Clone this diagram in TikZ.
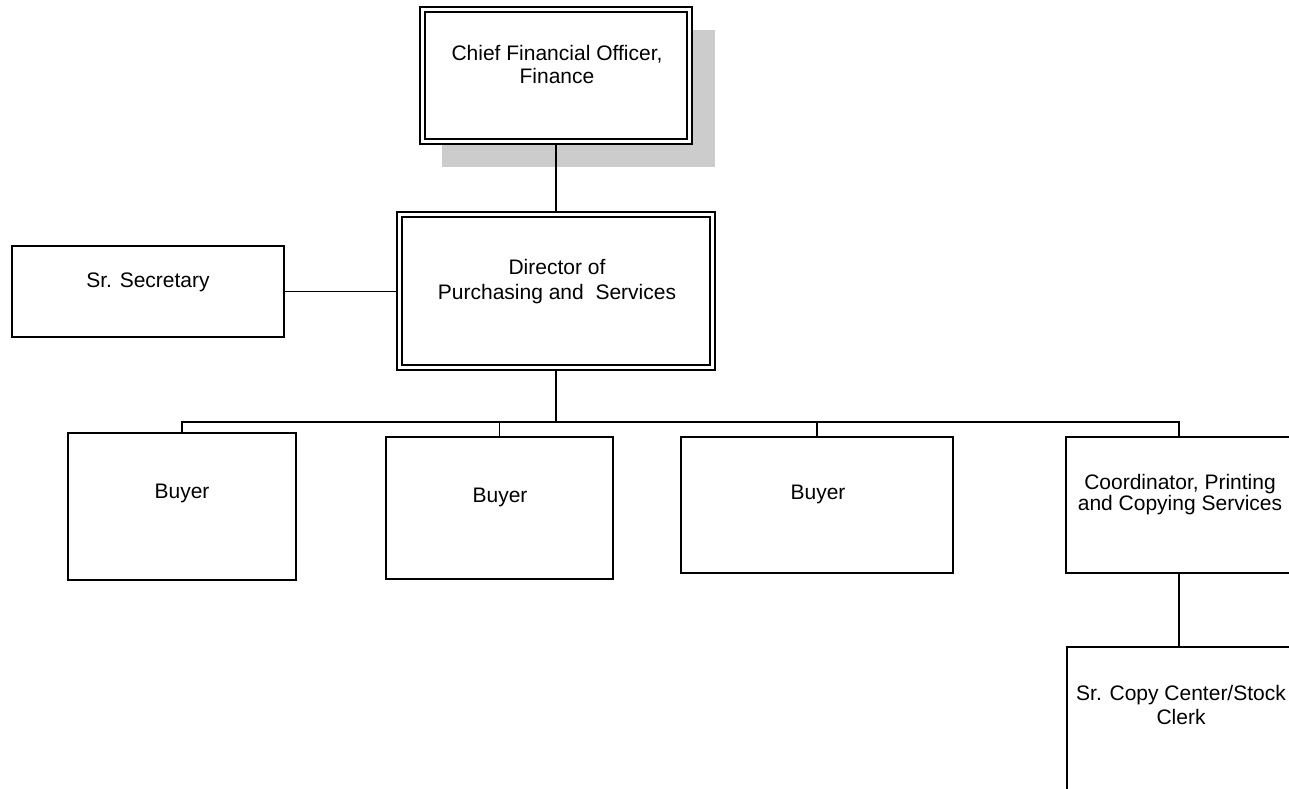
\documentclass[tikz,border=0pt]{standalone}
\usepackage{fontspec}
\setmainfont{Liberation Sans}
\begin{document}
\begin{tikzpicture}[x=1pt,y=-1pt,
  box/.style={draw, line width=1.8pt, fill=white, inner sep=0pt, outer sep=0.9pt},
  dbox/.style={draw, line width=1.5pt, double, double distance=3.5pt, fill=white, inner sep=0pt, outer sep=3.25pt},
  shadowbox/.style={fill=gray!40, inner sep=0pt, outer sep=0pt},
  conn/.style={line width=1.6pt},
  txt/.style={inner sep=0pt, align=center, font=\fontsize{21}{25}\selectfont}]
\useasboundingbox (0,0) rectangle (1289,788);
\clip (0,0) rectangle (1289,788);
% shadow and boxes
\node[shadowbox, minimum width=273pt, minimum height=137pt] (shadow) at (578.5,98.5) {};
\node[dbox, minimum width=267pt, minimum height=132pt] (cfo) at (556,75.5) {};
\node[dbox, minimum width=313pt, minimum height=153pt] (dir) at (556,291) {};
\node[box, minimum width=272pt, minimum height=91pt] (sec) at (148,291.5) {};
\node[box, minimum width=228pt, minimum height=147pt] (b1) at (182,506.5) {};
\node[box, minimum width=227pt, minimum height=142pt] (b2) at (499.5,508) {};
\node[box, minimum width=272pt, minimum height=136pt] (b3) at (817,505) {};
\node[box, minimum width=226pt, minimum height=136pt] (coord) at (1179,505) {};
\node[box, minimum width=224pt, minimum height=172pt] (clerk) at (1179,733) {};
% texts
\node[txt, font=\fontsize{21}{23}\selectfont] (cfot) at (557,64) {Chief Financial Officer,\\Finance};
\node[txt] (dirt) at (557,281.2) {Director of\\Purchasing and\ \ Services};
\node[txt] (sect) at (148,281.9) {Sr. Secretary};
\node[txt] (b1t) at (182,493.7) {Buyer};
\node[txt] (b2t) at (500,497) {Buyer};
\node[txt] (b3t) at (818,494) {Buyer};
\node[txt, font=\fontsize{21}{20.7}\selectfont] (coordt) at (1180,494.7) {Coordinator, Printing\\and Copying Services};
\node[txt, font=\fontsize{21}{24.3}\selectfont] (clerkt) at (1181,705.2) {Sr. Copy Center/Stock\\Clerk};
% connectors
\coordinate (bus) at (556,422);
\draw[conn] (cfo.south) -- (dir.north);
\draw[conn] (sec.east) -- (sec.east -| dir.west);
\draw[conn] (dir.south) -- (bus);
\draw[conn] (b1.north) |- (bus);
\draw[conn] (coord.north) |- (bus);
\draw[conn] (b2.north) -- (b2.north |- bus);
\draw[conn] (b3.north) -- (b3.north |- bus);
\draw[conn] (coord.south) -- (clerk.north);
\end{tikzpicture}
\end{document}
